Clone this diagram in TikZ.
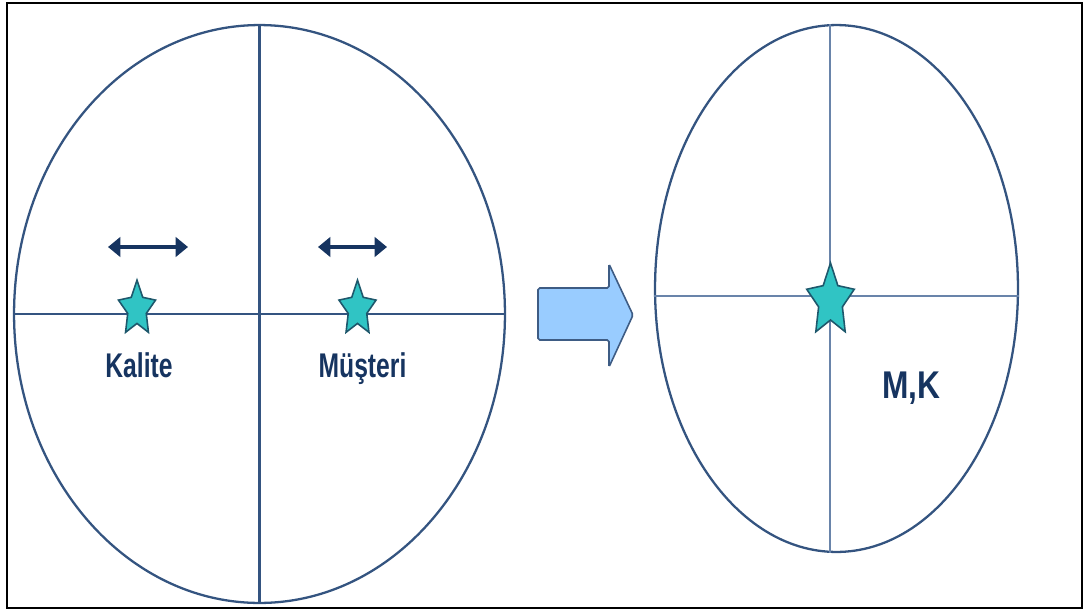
\documentclass[tikz,border=0pt]{standalone}
\usepackage{fontspec}
\setmainfont{Liberation Sans}
\usetikzlibrary{shapes.geometric,arrows.meta}
\definecolor{rim}{RGB}{52,84,128}
\definecolor{crossl}{RGB}{105,132,170}
\definecolor{starfill}{RGB}{48,196,196}
\definecolor{stardraw}{RGB}{30,88,108}
\definecolor{navy}{RGB}{22,52,96}
\definecolor{arrfill}{RGB}{153,204,255}
\definecolor{arrdraw}{RGB}{62,92,132}
\tikzset{
  ring/.style={ellipse,draw=rim,line width=1.3pt,inner sep=0pt},
  starmark/.style={star,star points=5,star point ratio=2.0,fill=starfill,draw=stardraw,
    line width=0.9pt,inner sep=0pt,transform shape},
  lbl/.style={text=navy,anchor=base,transform shape},
  slide/.style={{Triangle[length=7pt,width=11pt]}-{Triangle[length=7pt,width=11pt]},navy,line width=1.8pt}
}
\begin{document}
\begin{tikzpicture}[x=0.02cm,y=-0.02cm]
\useasboundingbox (0,0) rectangle (1084,612);
\draw[line width=1.1pt] (7,3) rectangle (1082,608);

% left picture
\node[ring,minimum width=9.82cm,minimum height=11.56cm] (lefte) at (259.5,314) {};
\draw[rim,line width=1.3pt] (lefte.north) -- (lefte.south);
\draw[rim,line width=1.3pt] (lefte.west) -- (lefte.east);

\node[starmark,minimum size=0.78cm,yscale=1.48] (kstar) at (137,309) {};
\node[starmark,minimum size=0.78cm,yscale=1.48] (mstar) at (357.5,309) {};

\coordinate (ka) at (108,247);
\coordinate (kb) at (188,247);
\coordinate (ma) at (318,247);
\coordinate (mb) at (387,247);
\draw[slide] (ka) -- (kb);
\draw[slide] (ma) -- (mb);

\node[lbl,font=\fontsize{19.5}{20}\selectfont\bfseries,xscale=0.72] (kal) at (139,377) {Kalite};
\node[lbl,font=\fontsize{19.5}{20}\selectfont\bfseries,xscale=0.72] (mus) at (362.5,377) {Müşteri};

% big arrow
\draw[fill=arrfill,draw=arrdraw,line width=0.9pt,rounded corners=1pt]
  (538,288) -- (609,288) -- (609,264) -- (633,315) -- (609,367) -- (609,340) -- (538,340) -- cycle;

% right picture
\node[ring,minimum width=7.26cm,minimum height=10.54cm] (righte) at (836.5,288.5) {};
\coordinate (mkc) at (830,296);
\draw[crossl,line width=1.3pt] (righte.north -| mkc) -- (righte.south -| mkc);
\draw[crossl,line width=1.3pt] (righte.west |- mkc) -- (righte.east |- mkc);
\node[starmark,minimum size=1.0cm,yscale=1.52] (mkstar) at (830.5,301) {};

\node[lbl,font=\fontsize{22}{24}\selectfont\bfseries,xscale=0.82] (mk) at (911.5,398) {M,K};
\end{tikzpicture}
\end{document}
